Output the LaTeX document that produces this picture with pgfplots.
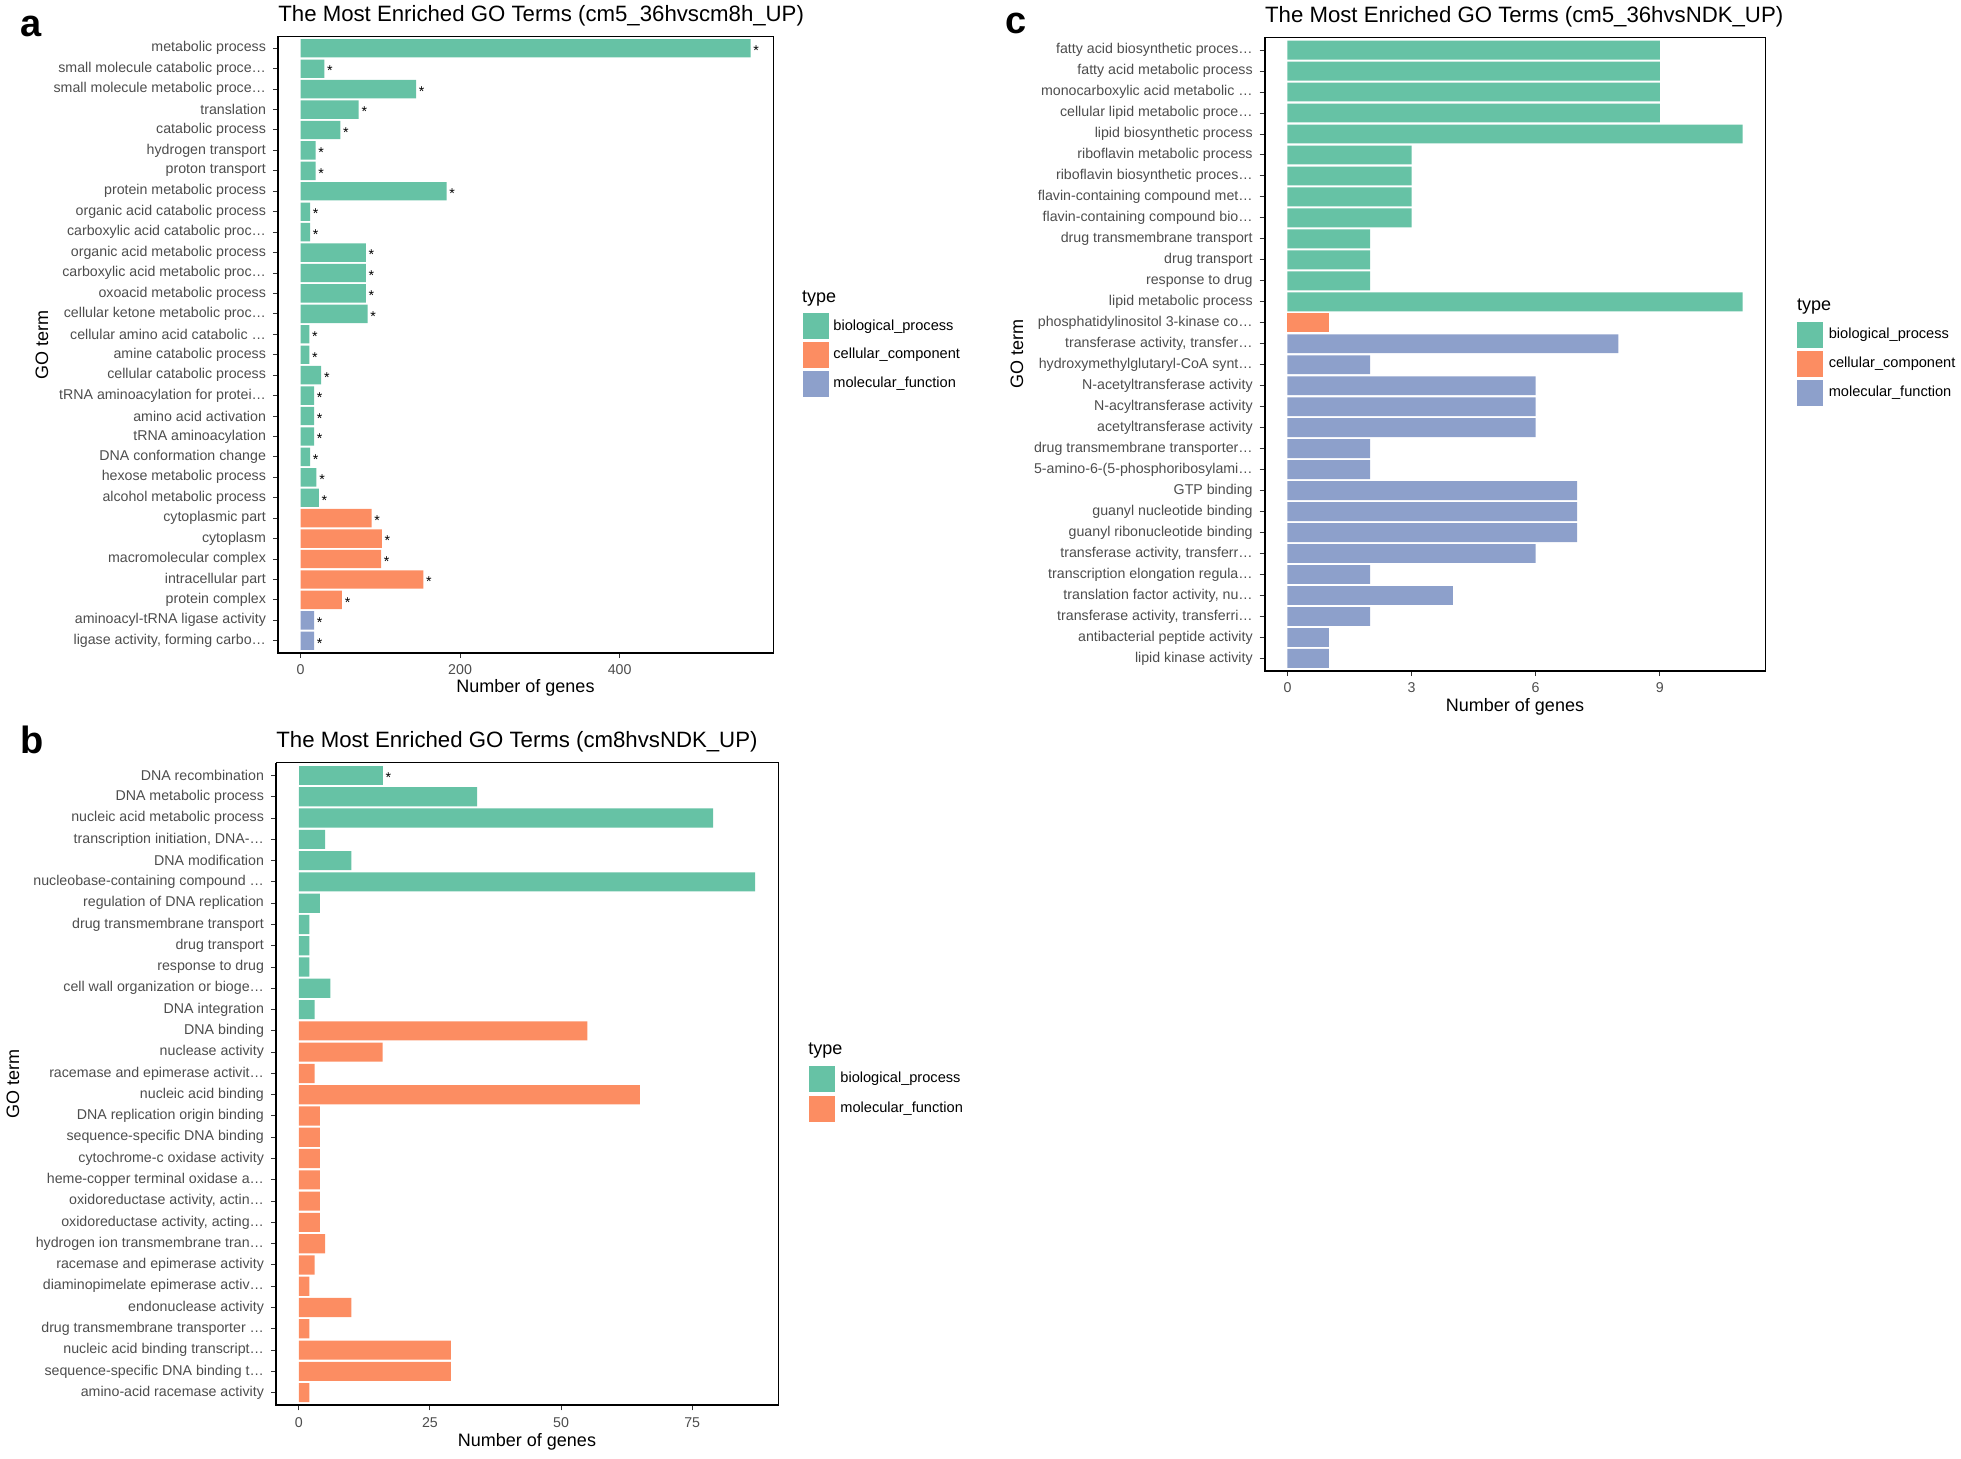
\documentclass[border=0pt]{standalone}
\usepackage{fontspec}
\setmainfont{Liberation Sans}
\usepackage{pgfplots}
\pgfplotsset{compat=1.18}

\definecolor{bp}{HTML}{66C2A5}
\definecolor{cc}{HTML}{FC8D62}
\definecolor{mf}{HTML}{8DA0CB}
\definecolor{grey30}{HTML}{4D4D4D}

\newcommand{\tickfont}{\fontsize{7.1}{8}\selectfont}
\newcommand{\keyfont}{\fontsize{7.3}{8}\selectfont}
\newcommand{\labfont}{\fontsize{9}{10}\selectfont}
\newcommand{\titfont}{\fontsize{11.1}{13}\selectfont}
\newcommand{\tagfont}{\fontsize{19}{22}\selectfont\bfseries}

\pgfplotsset{
  goterms/.style={
    scale only axis,
    anchor=north west,
    xbar, bar shift=0pt, bar width=0.9,
    ymin=0.4, ymax=30.6,
    ytick={1,...,30},
    tick pos=left,
    tick align=outside,
    major tick length=2.5pt,
    every tick/.style={black!80, line width=0.5pt},
    axis line style={black, line width=0.4pt},
    tick label style={font=\tickfont, text=grey30},
    /pgf/number format/assume math mode=true,
    clip=false,
  },
  star/.style={
    nodes near coords={*},
    every node near coord/.append style={anchor=west, inner sep=1.2pt, font=\tickfont, text=black, yshift=-1.2pt},
  },
}

\begin{document}
\begin{tikzpicture}
\useasboundingbox (0,0) rectangle (980.5pt,-729pt);

% ---------------- panel a ----------------
\node[anchor=base west, inner sep=0, font=\tagfont] at (10pt,-18.35pt) {a};
\node[anchor=base west, inner sep=0, font=\titfont] at (139pt,-10.6pt) {The Most Enriched GO Terms (cm5\_36hvscm8h\_UP)};
\begin{axis}[goterms, name=pa, at={(139pt,-18pt)},
    width=247.5pt, height=308.5pt,
    xmin=-28.2, xmax=592.2, xtick={0,200,400},
    yticklabels={
      {ligase activity, forming carbo…},
      {aminoacyl-tRNA ligase activity},
      {protein complex},
      {intracellular part},
      {macromolecular complex},
      {cytoplasm},
      {cytoplasmic part},
      {alcohol metabolic process},
      {hexose metabolic process},
      {DNA conformation change},
      {tRNA aminoacylation},
      {amino acid activation},
      {tRNA aminoacylation for protei…},
      {cellular catabolic process},
      {amine catabolic process},
      {cellular amino acid catabolic …},
      {cellular ketone metabolic proc…},
      {oxoacid metabolic process},
      {carboxylic acid metabolic proc…},
      {organic acid metabolic process},
      {carboxylic acid catabolic proc…},
      {organic acid catabolic process},
      {protein metabolic process},
      {proton transport},
      {hydrogen transport},
      {catabolic process},
      {translation},
      {small molecule metabolic proce…},
      {small molecule catabolic proce…},
      {metabolic process}},
  ]
  % biological_process
  \addplot[fill=bp, draw=none, star] coordinates {
    (564,30) (30,29) (145,28) (73,27) (50,26) (19,25) (19,24) (183,23)
    (12,22) (12,21) (82,20) (82,19) (82,18) (84,17) (11,16) (11,15)
    (26,14) (17,13) (17,12) (17,11) (12,10) (20,9) (23,8)
  };
  % cellular_component
  \addplot[fill=cc, draw=none, star] coordinates {
    (89,7) (102,6) (101,5) (154,4) (52,3)
  };
  % molecular_function
  \addplot[fill=mf, draw=none, star] coordinates {
    (17,2) (17,1)
  };
\end{axis}
\draw[line width=1pt] (pa.north west) -- (pa.south west) -- (pa.south east);
\node[font=\labfont] at (262.75pt,-344pt) {Number of genes};
\node[font=\labfont, rotate=90] at (21pt,-172.25pt) {GO term};
% legend a
\node[anchor=west, inner sep=0, font=\labfont] at (400.8pt,-149.5pt) {type};
\fill[bp] (401.5pt,-156.7pt) rectangle (414.5pt,-169.7pt);
\fill[cc] (401.5pt,-171.1pt) rectangle (414.5pt,-184.1pt);
\fill[mf] (401.5pt,-185.5pt) rectangle (414.5pt,-198.5pt);
\node[anchor=west, inner sep=0, font=\keyfont] at (416.5pt,-163.2pt) {biological\_process};
\node[anchor=west, inner sep=0, font=\keyfont] at (416.5pt,-177.6pt) {cellular\_component};
\node[anchor=west, inner sep=0, font=\keyfont] at (416.5pt,-192pt) {molecular\_function};

% ---------------- panel b ----------------
\node[anchor=base west, inner sep=0, font=\tagfont] at (10pt,-376.7pt) {b};
\node[anchor=base west, inner sep=0, font=\titfont] at (138pt,-373.5pt) {The Most Enriched GO Terms (cm8hvsNDK\_UP)};
\begin{axis}[goterms, name=pb, at={(138pt,-381.35pt)},
    width=251pt, height=321.35pt,
    xmin=-4.35, xmax=91.35, xtick={0,25,50,75},
    yticklabels={
      {amino-acid racemase activity},
      {sequence-specific DNA binding t…},
      {nucleic acid binding transcript…},
      {drug transmembrane transporter …},
      {endonuclease activity},
      {diaminopimelate epimerase activ…},
      {racemase and epimerase activity},
      {hydrogen ion transmembrane tran…},
      {oxidoreductase activity, acting…},
      {oxidoreductase activity, actin…},
      {heme-copper terminal oxidase a…},
      {cytochrome-c oxidase activity},
      {sequence-specific DNA binding},
      {DNA replication origin binding},
      {nucleic acid binding},
      {racemase and epimerase activit…},
      {nuclease activity},
      {DNA binding},
      {DNA integration},
      {cell wall organization or bioge…},
      {response to drug},
      {drug transport},
      {drug transmembrane transport},
      {regulation of DNA replication},
      {nucleobase-containing compound …},
      {DNA modification},
      {transcription initiation, DNA-…},
      {nucleic acid metabolic process},
      {DNA metabolic process},
      {DNA recombination}},
  ]
  % biological_process
  \addplot[fill=bp, draw=none, star] coordinates {(16,30)};
  \addplot[fill=bp, draw=none] coordinates {
    (34,29) (79,28) (5,27) (10,26) (87,25) (4,24) (2,23) (2,22) (2,21) (6,20) (3,19)
  };
  % molecular_function
  \addplot[fill=cc, draw=none] coordinates {
    (55,18) (16,17) (3,16) (65,15) (4,14) (4,13) (4,12) (4,11) (4,10) (4,9)
    (5,8) (3,7) (2,6) (10,5) (2,4) (29,3) (29,2) (2,1)
  };
\end{axis}
\draw[line width=1pt] (pb.north west) -- (pb.south west) -- (pb.south east);
\node[font=\labfont] at (263.5pt,-720.85pt) {Number of genes};
\node[font=\labfont, rotate=90] at (6.5pt,-542pt) {GO term};
% legend b
\node[anchor=west, inner sep=0, font=\labfont] at (404pt,-525.25pt) {type};
\fill[bp] (404.5pt,-533pt) rectangle (417.5pt,-546pt);
\fill[cc] (404.5pt,-548pt) rectangle (417.5pt,-561pt);
\node[anchor=west, inner sep=0, font=\keyfont] at (420pt,-539.5pt) {biological\_process};
\node[anchor=west, inner sep=0, font=\keyfont] at (420pt,-554.5pt) {molecular\_function};

% ---------------- panel c ----------------
\node[anchor=base west, inner sep=0, font=\tagfont] at (502.5pt,-16.7pt) {c};
\node[anchor=base west, inner sep=0, font=\titfont] at (632.35pt,-11.45pt) {The Most Enriched GO Terms (cm5\_36hvsNDK\_UP)};
\begin{axis}[goterms, name=pc, at={(632.35pt,-18.75pt)},
    width=250.3pt, height=316.75pt,
    xmin=-0.55, xmax=11.55, xtick={0,3,6,9},
    yticklabels={
      {lipid kinase activity},
      {antibacterial peptide activity},
      {transferase activity, transferri…},
      {translation factor activity, nu…},
      {transcription elongation regula…},
      {transferase activity, transferr…},
      {guanyl ribonucleotide binding},
      {guanyl nucleotide binding},
      {GTP binding},
      {5-amino-6-(5-phosphoribosylami…},
      {drug transmembrane transporter…},
      {acetyltransferase activity},
      {N-acyltransferase activity},
      {N-acetyltransferase activity},
      {hydroxymethylglutaryl-CoA synt…},
      {transferase activity, transfer…},
      {phosphatidylinositol 3-kinase co…},
      {lipid metabolic process},
      {response to drug},
      {drug transport},
      {drug transmembrane transport},
      {flavin-containing compound bio…},
      {flavin-containing compound met…},
      {riboflavin biosynthetic proces…},
      {riboflavin metabolic process},
      {lipid biosynthetic process},
      {cellular lipid metabolic proce…},
      {monocarboxylic acid metabolic …},
      {fatty acid metabolic process},
      {fatty acid biosynthetic proces…}},
  ]
  % biological_process
  \addplot[fill=bp, draw=none] coordinates {
    (9,30) (9,29) (9,28) (9,27) (11,26) (3,25) (3,24) (3,23) (3,22)
    (2,21) (2,20) (2,19) (11,18)
  };
  % cellular_component
  \addplot[fill=cc, draw=none] coordinates {(1,17)};
  % molecular_function
  \addplot[fill=mf, draw=none] coordinates {
    (8,16) (2,15) (6,14) (6,13) (6,12) (2,11) (2,10) (7,9) (7,8) (7,7)
    (6,6) (2,5) (4,4) (2,3) (1,2) (1,1)
  };
\end{axis}
\draw[line width=1pt] (pc.north west) -- (pc.south west) -- (pc.south east);
\node[font=\labfont] at (757.5pt,-353.35pt) {Number of genes};
\node[font=\labfont, rotate=90] at (508.5pt,-177pt) {GO term};
% legend c
\node[anchor=west, inner sep=0, font=\labfont] at (898.3pt,-153.5pt) {type};
\fill[bp] (898.5pt,-161pt) rectangle (911.5pt,-174pt);
\fill[cc] (898.5pt,-175.5pt) rectangle (911.5pt,-188.5pt);
\fill[mf] (898.5pt,-190pt) rectangle (911.5pt,-203pt);
\node[anchor=west, inner sep=0, font=\keyfont] at (914.2pt,-167.5pt) {biological\_process};
\node[anchor=west, inner sep=0, font=\keyfont] at (914.2pt,-182pt) {cellular\_component};
\node[anchor=west, inner sep=0, font=\keyfont] at (914.2pt,-196.5pt) {molecular\_function};
\end{tikzpicture}
\end{document}
